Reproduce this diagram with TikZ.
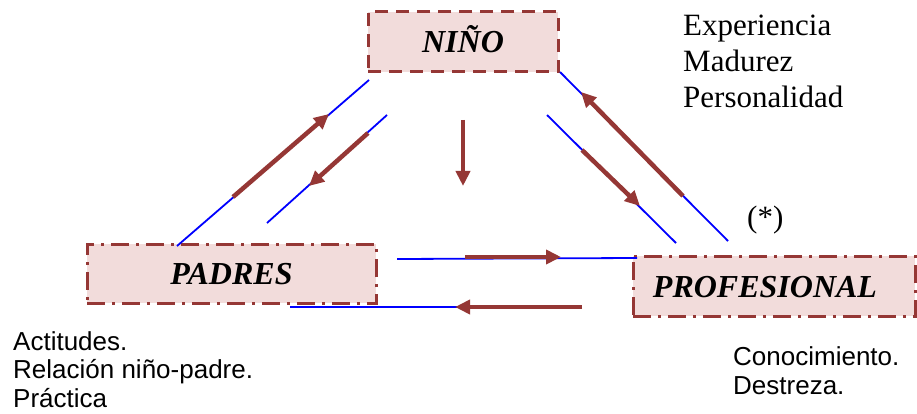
\documentclass[tikz,border=0pt]{standalone}
\usepackage{fontspec}
\setmainfont{Liberation Serif}
\newfontfamily\arialfont{Liberation Sans}
\usetikzlibrary{arrows.meta}
\definecolor{boxfill}{HTML}{F2DCDB}
\definecolor{boxline}{HTML}{953735}
\definecolor{linkblue}{HTML}{0000FF}
\tikzset{
  rolebox/.style={fill=boxfill, draw=boxline, line width=3pt, inner sep=0pt,
    font=\fontsize{32}{36}\selectfont\bfseries\itshape, text height=22pt, text depth=0pt},
  dashbox/.style={rolebox, dash pattern=on 13pt off 8pt},
  dotbox/.style={rolebox, dash pattern=on 18pt off 7pt on 3pt off 7pt},
  blueline/.style={draw=linkblue, line width=1.8pt},
  flow/.style={draw=boxline, line width=4.5pt,
    -{Triangle[length=15pt,width=14pt]}},
  serifnote/.style={anchor=base west, inner sep=0pt, font=\fontsize{31}{36}\selectfont},
  sansnote/.style={anchor=base west, inner sep=0pt, font=\arialfont\fontsize{26}{30}\selectfont},
}
\begin{document}
\begin{tikzpicture}[x=1pt,y=-1pt]
\useasboundingbox (0,0) rectangle (917,414);
% boxes
\node[dashbox, minimum width=190pt, minimum height=60pt] (nino) at (463,42) {NIÑO};
\node[dotbox, minimum width=289pt, minimum height=59pt] (padres) at (231.5,273.5) {PADRES};
\node[dotbox, minimum width=282pt, minimum height=60pt] (prof) at (774,286) {\hspace*{-18pt}PROFESIONAL};
% blue line end points
\coordinate (l1a) at (177,246); \coordinate (l1b) at (369,80);
\coordinate (l2a) at (267,223); \coordinate (l2b) at (387,115);
\coordinate (r1a) at (560,72);  \coordinate (r1b) at (728,241);
\coordinate (r2a) at (547,115); \coordinate (r2b) at (676,243);
\coordinate (h1a) at (397,259); \coordinate (h1b) at (637,258);
\coordinate (h2a) at (290,307); \coordinate (h2b) at (580,307);
\draw[blueline] (l1a) -- (l1b);
\draw[blueline] (l2a) -- (l2b);
\draw[blueline] (r1a) -- (r1b);
\draw[blueline] (r2a) -- (r2b);
\draw[blueline] (h1a) -- (h1b);
\draw[blueline] (h2a) -- (h2b);
% arrow end points
\coordinate (a1s) at (233,197); \coordinate (a1e) at (329,114);
\coordinate (a2s) at (368,133); \coordinate (a2e) at (309,186);
\coordinate (a3s) at (683,196); \coordinate (a3e) at (581,92);
\coordinate (a4s) at (582,150); \coordinate (a4e) at (640,206);
\coordinate (a5s) at (463,120); \coordinate (a5e) at (463,186);
\coordinate (a6s) at (465,257); \coordinate (a6e) at (561,257);
\coordinate (a7s) at (582,307); \coordinate (a7e) at (455,307);
\draw[flow] (a1s) -- (a1e);
\draw[flow] (a2s) -- (a2e);
\draw[flow] (a3s) -- (a3e);
\draw[flow] (a4s) -- (a4e);
\draw[flow] (a5s) -- (a5e);
\draw[flow] (a6s) -- (a6e);
\draw[flow] (a7s) -- (a7e);
% texts
\node[serifnote] (exp) at (683,36) {Experiencia};
\node[serifnote] (mad) at (683,72) {Madurez};
\node[serifnote] (per) at (683,108) {Personalidad};
\node[serifnote] (ast) at (747,227) {(*)};
\node[sansnote] (act) at (13,350) {Actitudes.};
\node[sansnote] (rel) at (13,378) {Relación niño-padre.};
\node[sansnote] (pra) at (13,407) {Práctica};
\node[sansnote] (con) at (733,365) {Conocimiento.};
\node[sansnote] (des) at (733,394) {Destreza.};
\end{tikzpicture}
\end{document}
